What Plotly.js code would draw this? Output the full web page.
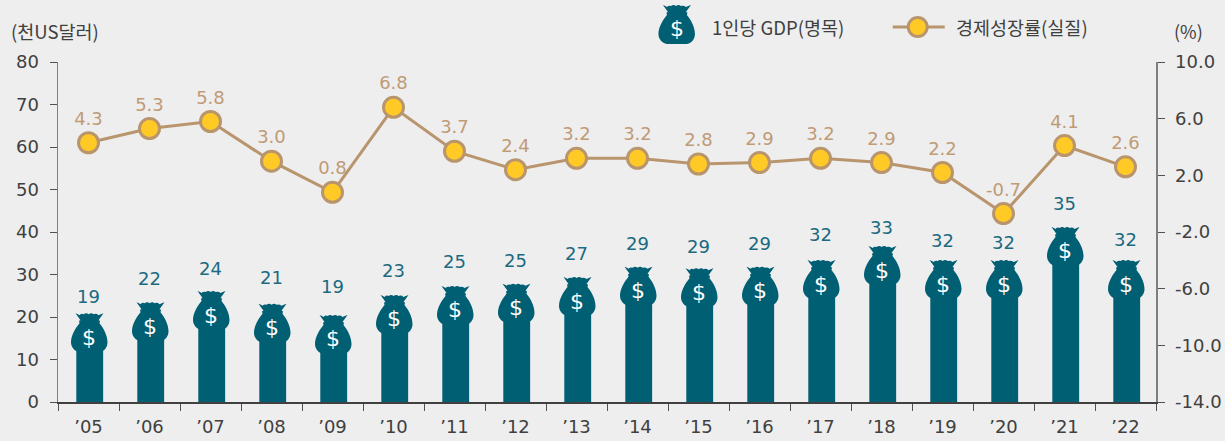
<!DOCTYPE html>
<html>
<head>
<meta charset="utf-8">
<script src="https://cdn.plot.ly/plotly-3.0.1.min.js"></script>
<style>html,body{margin:0;padding:0;background:#eeeeee}#chart{width:1225px;height:441px}</style>
</head>
<body>
<div id="chart"></div>
<script>
const years = ["’05","’06","’07","’08","’09","’10","’11","’12","’13","’14","’15","’16","’17","’18","’19","’20","’21","’22"];
const gdpPerCapita = [19,22,24,21,19,23,25,25,27,29,29,29,32,33,32,32,35,32];
const bagTops = [20.9,23.5,26.1,23.1,20.5,25.2,27.3,27.8,29.4,31.8,31.5,31.8,33.4,36.7,33.4,33.4,41.2,33.4];
const growthRate = [4.3,5.3,5.8,3.0,0.8,6.8,3.7,2.4,3.2,3.2,2.8,2.9,3.2,2.9,2.2,-0.7,4.1,2.6];
const leftTicks = [0,10,20,30,40,50,60,70,80];
const rightTicks = [-14,-10,-6,-2,2,6,10];
const seriesNames = ["1인당 GDP(명목)","경제성장률(실질)"];
const unitNames = ["(천US달러)","(%)"];

const NUM = '"DejaVu Sans","Noto Sans CJK KR",sans-serif';
const KR = '"Noto Sans CJK KR","DejaVu Sans",sans-serif';
const TEAL = '#005f73', TAN = '#b8956d', TANTXT = '#bf9b76', GOLD = '#ffc926', INK = '#404040';
const L = 57.5, T = 62, W = 1099, H = 340;

// money-bag outline, pixels relative to the anchor (top centre); y runs upward
const BAG = 'M-13,0 Q-10,-1 -9,-2 Q-7,0 -5,-1 Q-2,1 0,-1 Q3,1 5,-1 Q8,0 10,-2 Q12,-1 15,0 ' +
  'L10,-7 L11.5,-7.5 L11,-10 C15,-15 19,-22 19,-29 C19,-34 16,-38 11,-39 L-9,-39 ' +
  'C-14,-38 -17.5,-34 -17.5,-29 C-17.5,-22 -13,-15 -9,-10 L-9.5,-7.5 L-8,-7 Z';
const BAR_BELOW_BAG_TOP = 6;
// vertical gap between each bag top and its value label, as drawn in the reference
const labelLifts = [17,24,23,26,28,24,24,23,24,23,22,23,26,19,20,18,23,21];

const shapes = years.map((y,i)=>({
  type:'path', xref:'x', yref:'y', xsizemode:'pixel', ysizemode:'pixel',
  xanchor:y, yanchor:bagTops[i], path:BAG, fillcolor:TEAL, line:{width:0}, layer:'above'
}));
shapes.push({type:'path', xref:'paper', yref:'paper', xsizemode:'pixel', ysizemode:'pixel',
  xanchor:(676-L)/W, yanchor:1+(T-5)/H, path:BAG, fillcolor:TEAL, line:{width:0}});

const annotations = [];
years.forEach((y,i)=>{
  annotations.push({x:y,y:bagTops[i],xref:'x',yref:'y',yanchor:'middle',text:'$',showarrow:false,
    yshift:-24,font:{family:NUM,size:22,color:'#ffffff'}});
  annotations.push({x:y,y:bagTops[i],xref:'x',yref:'y',yanchor:'middle',text:String(gdpPerCapita[i]),showarrow:false,
    yshift:labelLifts[i],font:{family:NUM,size:18,color:'#1a6a80'}});
});
function note(text,px,py,anchor,size,color,family){
  annotations.push({text,xref:'paper',yref:'paper',x:(px-L)/W,y:1-(py-T)/H,xanchor:anchor,yanchor:'middle',
    showarrow:false,borderpad:0,borderwidth:0,font:{family:family||KR,size:size,color:color||INK}});
}
note(unitNames[0],10,31,'left',18.5);
note(unitNames[1],1175,31,'left',18);
note(seriesNames[0],712,27,'left',18.5);
note(seriesNames[1],956,27,'left',18.5);
note('$',677,29,'center',22,'#ffffff',NUM);

shapes.push({type:'line',xref:'paper',yref:'paper',x0:(893-L)/W,x1:(945-L)/W,y0:1+(T-27)/H,y1:1+(T-27)/H,
  line:{color:TAN,width:3},layer:'above'});
shapes.push({type:'circle',xref:'paper',yref:'paper',xsizemode:'pixel',ysizemode:'pixel',
  xanchor:(918-L)/W,yanchor:1+(T-27)/H,x0:-9.5,x1:9.5,y0:-9.5,y1:9.5,fillcolor:GOLD,line:{color:TAN,width:3},layer:'above'});

const traces = [
  {type:'bar',x:years,y:bagTops.map(v=>v-BAR_BELOW_BAG_TOP),width:0.44,offset:-0.2,
   marker:{color:TEAL,line:{width:0}},hoverinfo:'skip',showlegend:false,cliponaxis:false},
  {type:'scatter',mode:'lines+markers+text',x:years,y:growthRate,yaxis:'y2',
   text:growthRate.map(v=>v.toFixed(1)),textposition:'top center',
   textfont:{family:NUM,size:18,color:TANTXT},
   line:{color:TAN,width:3},marker:{size:20,color:GOLD,line:{color:TAN,width:3}},
   hoverinfo:'skip',showlegend:false,cliponaxis:false}
];

const layout = {
  width:1225,height:441,margin:{l:L,r:1225-L-W,t:T,b:441-T-H,pad:0},
  paper_bgcolor:'#eeeeee',plot_bgcolor:'#eeeeee',showlegend:false,
  font:{family:NUM,size:18,color:INK},
  xaxis:{type:'category',categoryorder:'array',categoryarray:years,tickson:'boundaries',range:[-0.5,17.5],
    showgrid:false,zeroline:false,showline:true,linecolor:'#404040',linewidth:1.5,
    ticks:'outside',ticklen:7,tickcolor:'#505050',tickwidth:1,tickangle:0,ticklabelstandoff:8,
    tickfont:{family:NUM,size:18,color:INK}},
  yaxis:{range:[0,80],tickvals:leftTicks,ticktext:leftTicks.map(String),showgrid:false,zeroline:false,
    showline:true,linecolor:'#7f7f7f',linewidth:1.5,ticks:'outside',ticklen:7,tickcolor:'#505050',tickwidth:1,
    ticklabelstandoff:7,tickfont:{family:NUM,size:18,color:INK},fixedrange:true},
  yaxis2:{overlaying:'y',side:'right',range:[-14,10],tickvals:rightTicks,ticktext:rightTicks.map(v=>v.toFixed(1)),
    showgrid:false,zeroline:false,showline:true,linecolor:'#7f7f7f',linewidth:1.5,ticks:'outside',ticklen:7,
    tickcolor:'#505050',tickwidth:1,ticklabelstandoff:7,tickfont:{family:NUM,size:18,color:INK},fixedrange:true},
  shapes,annotations
};
Plotly.newPlot('chart',traces,layout,{displayModeBar:false,staticPlot:true});
</script>
</body>
</html>
